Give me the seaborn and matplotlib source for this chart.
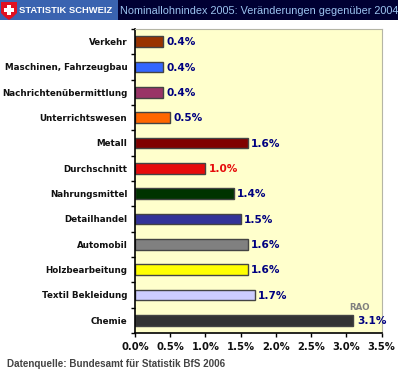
import numpy as np
import pandas as pd
import matplotlib
matplotlib.use('Agg')
from matplotlib import pyplot as plt
from matplotlib.patches import Rectangle, Polygon
import seaborn as sns

categories = ['Verkehr', 'Maschinen, Fahrzeugbau', 'Nachrichtenübermittlung', 'Unterrichtswesen',
              'Metall', 'Durchschnitt', 'Nahrungsmittel', 'Detailhandel', 'Automobil',
              'Holzbearbeitung', 'Textil Bekleidung', 'Chemie']
values = [0.4, 0.4, 0.4, 0.5, 1.6, 1.0, 1.4, 1.5, 1.6, 1.6, 1.7, 3.1]
colors = ['#993300', '#3366ff', '#993366', '#ff6600', '#800000', '#e60b0b',
          '#003300', '#333399', '#808080', '#ffff00', '#ccccff', '#333333']
x_ticks = [0.0, 0.5, 1.0, 1.5, 2.0, 2.5, 3.0, 3.5]

W, H = 398.0, 370.0


def FitWidth(fig, txt, width_px):
    # no narrow font here, so shrink the text until it spans the same width
    size = txt.get_fontsize()
    box = txt.get_window_extent(fig.canvas.get_renderer())
    txt.set_fontsize(size * width_px / box.width)


def main():
    sns.set_style('white')
    plt.rcParams['font.family'] = ['DejaVu Sans']
    pd_data = pd.DataFrame({'cat': categories, 'val': values})

    fig = plt.figure(figsize=(W / 100, H / 100), dpi=100, facecolor='white')
    axe = fig.add_axes([135 / W, 1 - 333 / H, 246.5 / W, 304 / H])
    axe.set_facecolor('#ffffcc')

    sns.barplot(data=pd_data, y='cat', x='val', hue='cat', palette=colors, legend=False,
                orient='h', width=0.42, edgecolor='#444444', linewidth=1, ax=axe, saturation=1)
    axe.set_xlim(0, 3.5)
    axe.set_ylim(11.5, -0.5)
    axe.set_xlabel('')
    axe.set_ylabel('')

    # spines: black left/bottom, light grey top/right like a soft shadow
    axe.spines['left'].set_color('black')
    axe.spines['left'].set_linewidth(1.2)
    axe.spines['bottom'].set_color('black')
    axe.spines['bottom'].set_linewidth(1.2)
    axe.spines['top'].set_color('#b5b5a5')
    axe.spines['right'].set_color('#b5b5a5')

    axe.set_xticks(x_ticks)
    axe.set_xticklabels(['%.1f%%' % v for v in x_ticks], size=7.2, fontweight='bold', color='#111111')
    axe.tick_params(axis='x', length=3, width=1, color='black', pad=3.5, bottom=True)
    axe.set_yticks(np.arange(len(categories)))
    axe.set_yticklabels(categories, size=6.3, fontweight='bold', color='#111111')
    axe.tick_params(axis='y', which='major', length=0, pad=5.5)
    axe.set_yticks(np.arange(-0.5, len(categories)), minor=True)
    axe.tick_params(axis='y', which='minor', length=3, width=1, color='black', left=True)

    for i, v in enumerate(values):
        is_avg = categories[i] == 'Durchschnitt'
        axe.text(v + 0.05, i + 0.03, '%.1f%%' % v, va='center', ha='left',
                 color='#e60b0b' if is_avg else '#000080', size=7.6, fontweight='bold')
    axe.text(3.19, 10.5, 'RAO', color='#808080', size=6.2, fontweight='bold', ha='center', va='center')

    # header band
    fig.add_artist(Rectangle((0, 1 - 20 / H), 118 / W, 20 / H, transform=fig.transFigure, color='#3a63b0', lw=0))
    fig.add_artist(Rectangle((118 / W, 1 - 20 / H), 280 / W, 20 / H, transform=fig.transFigure, color='#000033', lw=0))
    shield = [(1, 2), (17, 2), (17, 13), (13, 17), (9, 20), (5, 17), (1, 13)]
    fig.add_artist(Polygon([(x / W, 1 - y / H) for x, y in shield], transform=fig.transFigure, color='#e01020', lw=0))
    fig.add_artist(Rectangle((4 / W, 1 - 11.5 / H), 10 / W, 3.5 / H, transform=fig.transFigure, color='white', lw=0))
    fig.add_artist(Rectangle((7.2 / W, 1 - 14.5 / H), 3.6 / W, 9.5 / H, transform=fig.transFigure, color='white', lw=0))

    sans = ['Liberation Sans']
    left = fig.text(19 / W, 1 - 10.5 / H, 'STATISTIK SCHWEIZ', color='white', size=9, fontweight='bold',
                    family=sans, va='center', ha='left')
    FitWidth(fig, left, 93)
    title = fig.text(120 / W, 1 - 10.5 / H, 'Nominallohnindex 2005: Veränderungen gegenüber 2004', color='#9cc4f0',
                     size=9, family=sans, va='center', ha='left')
    FitWidth(fig, title, 276)
    fig.text(7 / W, 1 - 364 / H, 'Datenquelle: Bundesamt für Statistik BfS 2006', color='#444444',
             size=7.15, fontweight='bold', family=sans, va='center', ha='left')

    fig.savefig('out.png', dpi=100)


if __name__ == '__main__':
    main()
